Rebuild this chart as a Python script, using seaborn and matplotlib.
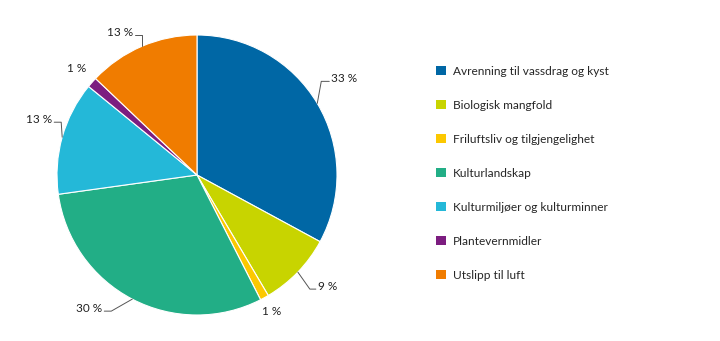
import numpy as np
import matplotlib
matplotlib.use("Agg")
import matplotlib.pyplot as plt
import seaborn as sns
from matplotlib.patches import Patch

categories = ["Avrenning til vassdrag og kyst", "Biologisk mangfold",
              "Friluftsliv og tilgjengelighet", "Kulturlandskap",
              "Kulturmiljøer og kulturminner", "Plantevernmidler",
              "Utslipp til luft"]
values = [32.9, 8.6, 1.0, 30.3, 13.1, 1.2, 12.9]
labels = ["33 %", "9 %", "1 %", "30 %", "13 %", "1 %", "13 %"]
colors = ["#0067a5", "#c8d400", "#fcc800", "#22ae86", "#24b8d8", "#7c1d80", "#f07c00"]

sns.set_theme(style="white")
plt.rcParams["font.family"] = ["Lato", "DejaVu Sans"]

W, H = 720, 341
fig = plt.figure(figsize=(W / 100, H / 100), dpi=100)
R = 140.0
cx, cy = 197, 175
ax = fig.add_axes([(cx - R) / W, (H - cy - R) / H, 2 * R / W, 2 * R / H])
wedges, _ = ax.pie(values, colors=colors, startangle=90, counterclock=False,
                   radius=1.0, wedgeprops=dict(edgecolor="white", linewidth=0.8))
ax.set_xlim(-1, 1)
ax.set_ylim(-1, 1)
ax.set_aspect("equal")
ax.axis("off")

# label layout (pixels): (elbow dx, elbow dy, horizontal length, text radius if no line)
layout = [
    (4, 22, 8, None),
    (12, -17, 6, None),
    (None, None, None, 1.11),
    (-21, -12, -7, None),
    (-1, 15, -7, None),
    (None, None, None, 1.15),
    (0, 11, -7, None),
]
fs = 8.5
for w, lab, (ex, ey, hl, tr) in zip(wedges, labels, layout):
    mid = np.deg2rad((w.theta1 + w.theta2) / 2)
    px, py = np.cos(mid), np.sin(mid)
    if tr is not None:
        ax.text(tr * px, tr * py, lab, ha="center", va="center", fontsize=fs, color="#222222")
        continue
    exx, eyy = px + ex / R, py + ey / R
    hx = exx + hl / R
    ax.plot([px, exx, hx], [py, eyy, eyy], color="#555555", lw=0.7, clip_on=False)
    if hl > 0:
        ax.text(hx + 2 / R, eyy - 1 / R, lab, ha="left", va="baseline", fontsize=fs, color="#222222")
    else:
        ax.text(hx - 2 / R, eyy - 1 / R, lab, ha="right", va="baseline", fontsize=fs, color="#222222")

handles = [Patch(facecolor=c, edgecolor="none") for c in colors]
fig.legend(handles, categories, loc="upper left", bbox_to_anchor=(436 / W, 1 - 66 / H),
           frameon=False, fontsize=8.6, handlelength=0.8, handleheight=0.8,
           handletextpad=0.6, labelspacing=1.92, borderaxespad=0, borderpad=0)

fig.savefig("out.png", dpi=100)
